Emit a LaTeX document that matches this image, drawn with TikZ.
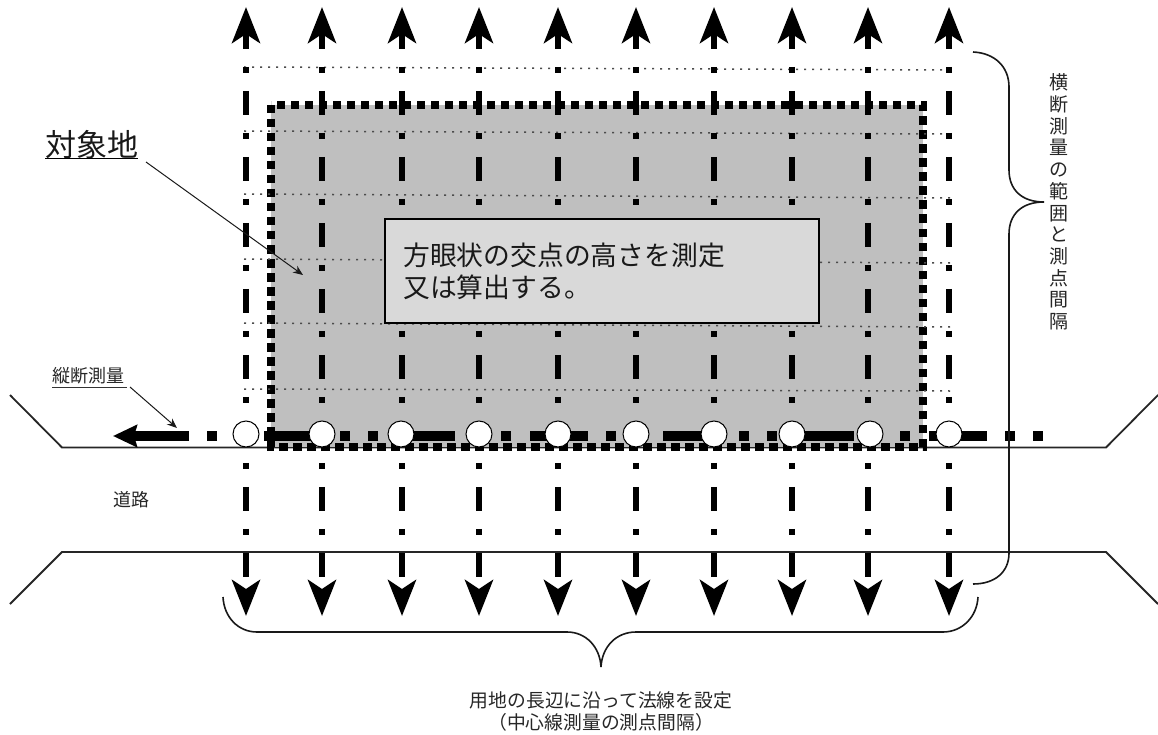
\documentclass[tikz,border=0pt]{standalone}
\usepackage{fontspec}
\setmainfont{Noto Sans CJK JP}
\usetikzlibrary{arrows.meta}
\tikzset{
  x=1pt,y=-1pt,
  road/.style={draw=black!85,line width=1.8pt},
  axis/.style={draw=black,line width=6pt,dash pattern=on 24pt off 18pt on 6pt off 18pt,dash phase=7pt,
    {Stealth[length=36pt,width=28pt,inset=9pt]}-{Stealth[length=36pt,width=28pt,inset=9pt]}},
  grid/.style={draw=black!70,line width=1.5pt,dash pattern=on 2pt off 6pt},
  site/.style={draw=black,fill=black!25,line width=8.5pt,dash pattern=on 8.5pt off 5.5pt},
  centre/.style={draw=black,line width=10pt,dash pattern=on 10pt off 18pt on 10pt off 18pt on 58pt off 19pt,
    -{Stealth[length=24pt,width=22pt,inset=3pt]}},
  station/.style={circle,draw=black,fill=white,line width=1pt,minimum size=26pt,inner sep=0pt},
  brace/.style={draw=black!90,line width=1.6pt},
  leader/.style={draw=black!90,line width=1pt,-{Stealth[length=10pt,width=8pt]}},
  lbl/.style={inner sep=0pt,text=black!85,font=\fontsize{18pt}{22pt}\selectfont,align=center},
}
\begin{document}
\begin{tikzpicture}
\useasboundingbox (0,0) rectangle (1158,735);
% road
\draw[road] (10,395) -- (62,447.5) -- (1106,447.5) -- (1158,395);
\draw[road] (10,604) -- (62,552) -- (1106,552) -- (1158,604);
% site
\path[site] (271,105) rectangle (923,447);
% grid lines
\foreach \a/\b in {67/70,131/134,194/198,259/263,323/327,389/391}
  \draw[grid] (244,\a) -- (950,\b);
% normals
\foreach \i/\x in {1/246,2/322,3/402,4/479,5/558,6/636,7/714,8/792,9/868,10/949}{
  \coordinate (t\i) at (\x,7);
  \coordinate (b\i) at (\x,616);
  \draw[axis] (t\i) -- (b\i);
}
% centre line
\coordinate (cE) at (1043,436);
\coordinate (cW) at (113,436);
\draw[centre] (cE) -- (cW);
\foreach \i/\x in {1/246,2/322,3/401,4/479,5/558,6/636,7/714,8/792,9/870,10/949}
  \node[station] (s\i) at (\x,434) {};
% braces
\draw[brace] (973,52) .. controls (995,53) and (1009,67) .. (1009,87) -- (1009,170)
  .. controls (1009,190) and (1022,202) .. (1044,202)
  .. controls (1022,202) and (1009,214) .. (1009,234) -- (1009,553)
  .. controls (1009,572) and (995,584) .. (973,584);
\draw[brace] (223,597) .. controls (224,617) and (238,632) .. (257,632) -- (567,632)
  .. controls (586,632) and (600,647) .. (601,667)
  .. controls (602,647) and (616,632) .. (636,632) -- (943,632)
  .. controls (962,632) and (977,617) .. (978,597);
% box
\node[draw=black,line width=1.2pt,fill=black!15,minimum width=434pt,minimum height=104pt,inner sep=0pt] (box) at (602,271) {};
\node[inner sep=0pt,anchor=west,font=\fontsize{26.8pt}{32pt}\selectfont,align=left,text=black!90] (boxt) at (403,271) {方眼状の交点の高さを測定\\又は算出する。};
% labels
\node[inner sep=0pt,font=\fontsize{31pt}{36pt}\selectfont,text=black!90,anchor=west] (site) at (45,145) {対象地};
\coordinate (siteU1) at (45,158.5);\coordinate (siteU2) at (138,158.5);
\draw[black,line width=1.5pt] (siteU1) -- (siteU2);
\coordinate (siteT) at (303,275);
\coordinate (siteS) at (146,162);
\draw[leader] (siteS) -- (siteT);
\node[lbl,anchor=west] (long) at (52,376) {縦断測量};
\coordinate (longU1) at (52,387);\coordinate (longU2) at (127,387);
\draw[black!80,line width=1pt] (longU1) -- (longU2);
\coordinate (longS) at (130,387);\coordinate (longT) at (177,428);
\draw[leader] (longS) -- (longT);
\node[lbl] (road) at (131,500) {道路};
\node[lbl,font=\fontsize{19pt}{21.7pt}\selectfont] (cross) at (1059,202) {横\\断\\測\\量\\の\\範\\囲\\と\\測\\点\\間\\隔};
\node[lbl,font=\fontsize{18.8pt}{22pt}\selectfont] (note) at (601,711) {用地の長辺に沿って法線を設定\\（中心線測量の測点間隔）};
\end{tikzpicture}
\end{document}
